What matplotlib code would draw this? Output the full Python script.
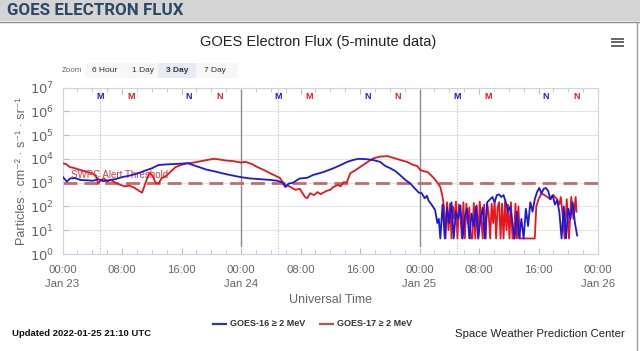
import matplotlib
matplotlib.use("Agg")
import matplotlib.pyplot as plt
from matplotlib.patches import Rectangle
from matplotlib.lines import Line2D
import numpy as np

plt.rcParams["font.family"] = ["Liberation Sans", "DejaVu Sans"]

# hours since 2022-01-23 00:00 UT, flux in particles / cm2 s sr
g16_hours = [
    0.0, 0.6, 1.0, 1.7, 2.4, 3.4, 4.1, 4.8, 5.5, 6.1, 7.1, 8.0, 9.1, 10.2,
    11.1, 12.0, 12.9, 13.8, 14.7, 16.1, 16.8, 17.2, 18.1, 19.4, 20.4, 21.2,
    22.5, 24.0, 25.2, 26.6, 27.9, 28.9, 29.6, 29.95, 30.4, 31.0, 31.9, 32.9,
    33.7, 35.1, 36.4, 37.4, 38.3, 39.1, 39.8, 40.7, 41.7, 42.7, 43.4, 44.1,
    44.8, 45.3, 46.1, 46.8, 47.2, 47.9, 48.3, 48.7, 49.0, 49.2, 49.7, 50.1,
    50.4, 50.6, 50.8, 51.1, 51.4, 51.7, 52.0, 52.3, 52.6, 52.9, 53.2, 53.5,
    53.8, 54.1, 54.4, 54.7, 55.0, 55.3, 55.6, 55.9, 56.2, 56.5, 56.8, 57.1,
    57.5, 57.8, 58.1, 58.4, 58.7, 59.0, 59.3, 59.6, 59.9, 60.2, 60.5, 60.8,
    61.1, 61.4, 61.7, 62.0, 62.3, 62.6, 62.9, 63.2, 63.5, 63.8, 64.1, 64.4,
    64.7, 65.0, 65.3, 65.6, 65.9, 66.2, 66.5, 66.8, 67.1, 67.4, 67.7, 68.0,
    68.3, 68.6, 68.9, 69.2,
]
g16_flux = [
    1800, 1100, 1500, 1550, 1300, 1250, 1200, 1400, 1150, 1250, 1400, 1700,
    2000, 2500, 3200, 4000, 5500, 5800, 6000, 6300, 6600, 6000, 4800, 3500,
    3000, 2600, 2100, 1700, 1500, 1400, 1300, 1200, 1000, 650, 900, 1000,
    1500, 1600, 2100, 2800, 4000, 5500, 7500, 9000, 10000, 9800, 9000, 7500,
    5000, 4000, 3000, 2200, 1300, 900, 650, 380, 360, 220, 280, 180, 110, 70,
    20, 30, 4.5, 120, 4.5, 90, 20, 150, 4.5, 60, 30, 110, 4.5, 40, 80, 4.5,
    50, 15, 100, 4.5, 30, 90, 4.5, 150, 200, 250, 150, 300, 320, 250, 300,
    150, 60, 100, 20, 4.5, 60, 4.5, 30, 4.5, 80, 15, 150, 60, 200, 400, 600,
    350, 550, 600, 450, 200, 300, 120, 180, 60, 4.5, 100, 4.5, 80, 30, 150,
    20, 6,
]

g17_hours = [
    0.0, 0.5, 1.0, 1.7, 2.4, 3.0, 3.9, 4.5, 4.8, 5.2, 5.6, 6.0, 6.5, 7.1,
    7.8, 8.4, 9.0, 9.7, 10.3, 10.7, 11.0, 11.3, 11.7, 12.1, 12.5, 12.9, 13.3,
    14.0, 14.6, 15.2, 15.9, 16.8, 17.7, 18.6, 19.5, 20.3, 21.0, 22.0, 23.0,
    24.0, 24.6, 25.5, 26.2, 27.0, 27.9, 29.2, 29.9, 30.5, 31.3, 31.9, 32.6,
    32.9, 33.3, 33.8, 34.3, 34.7, 35.0, 35.5, 36.0, 36.4, 37.0, 37.4, 37.8,
    38.2, 38.7, 39.3, 40.0, 40.9, 41.8, 42.7, 43.7, 44.5, 45.4, 46.3, 47.2,
    47.7, 48.1, 48.6, 49.1, 49.9, 50.4, 50.8, 51.1, 51.3, 51.5, 51.7, 51.9,
    52.1, 52.3, 52.5, 52.7, 52.9, 53.1, 53.3, 53.5, 53.7, 53.9, 54.1, 54.3,
    54.5, 54.7, 54.9, 55.1, 55.3, 55.5, 55.7, 55.9, 56.1, 56.3, 56.5, 56.7,
    56.9, 57.1, 57.3, 57.5, 57.7, 57.9, 58.1, 58.3, 58.5, 58.7, 58.9, 59.1,
    59.3, 59.5, 59.7, 59.9, 60.1, 60.3, 60.5, 60.7, 60.9, 61.1, 61.3, 61.5,
    63.5, 63.7, 64.0, 64.4, 64.8, 65.2, 65.6, 66.0, 66.2, 66.5, 66.8, 67.0,
    67.3, 67.5, 67.8, 68.1, 68.4, 68.7, 69.0, 69.1,
]
g17_flux = [
    6500, 6000, 4500, 4000, 3400, 3000, 2500, 2000, 900, 1300, 1500, 1100,
    1300, 1000, 800, 700, 750, 600, 450, 380, 700, 1300, 2600, 2000, 1000,
    900, 1500, 2000, 3000, 4500, 5500, 6500, 7000, 8000, 9000, 10000, 9500,
    8500, 8000, 7000, 7500, 6000, 4500, 3500, 2500, 1600, 800, 700, 500, 550,
    250, 220, 360, 300, 400, 330, 370, 450, 500, 650, 800, 700, 1050, 1000,
    2500, 3200, 4500, 7000, 10500, 12500, 13000, 11000, 9000, 7500, 5500,
    5000, 3400, 3000, 2800, 1600, 1000, 650, 250, 90, 4.5, 150, 10, 130, 4.5,
    100, 30, 160, 4.5, 120, 40, 4.5, 150, 4.5, 130, 20, 90, 4.5, 4.5, 140,
    4.5, 110, 4.5, 160, 30, 4.5, 120, 4.5, 140, 50, 4.5, 130, 20, 170, 4.5,
    90, 150, 4.5, 130, 4.5, 160, 10, 120, 4.5, 150, 4.5, 4.5, 130, 4.5, 100,
    4.5, 4.5, 100, 200, 350, 300, 250, 200, 300, 250, 200, 120, 250, 30, 4.5,
    200, 4.5, 250, 30, 250, 60,
]

threshold = 1000
day_lines = [24, 48]
g16_midnight = [5.0, 29.0, 53.0]
g17_midnight = [9.2, 33.2, 57.2]
g16_noon = [17.0, 41.0, 65.0]
g17_noon = [21.1, 45.1, 69.1]

xtick_pos = [0, 8, 16, 24, 32, 40, 48, 56, 64, 72]
xtick_labels = ["00:00\nJan 23", "08:00", "16:00", "00:00\nJan 24", "08:00",
                "16:00", "00:00\nJan 25", "08:00", "16:00", "00:00\nJan 26"]

blue = "#1a1adf"
red = "#e8161c"
grey_txt = "#666666"

fig = plt.figure(figsize=(6.4, 3.51), dpi=100)

# page header band
fig.patches.append(Rectangle((0, 1 - 21 / 351), 1, 21 / 351, transform=fig.transFigure,
                             facecolor="#d4d4d4", edgecolor="none", zorder=0))
fig.add_artist(Line2D([0, 1], [1 - 21.5 / 351] * 2, color="#8a8a8a", lw=1))
fig.add_artist(Line2D([637 / 640] * 2, [0, 1 - 21.5 / 351], color="#a0a0a0", lw=1))
fig.text(7 / 640, 1 - 10.5 / 351, "GOES ELECTRON FLUX", fontsize=12.2, fontweight="bold",
         color="#2d4866", va="center", ha="left", family=["Roboto", "Liberation Sans"])

fig.text(318 / 640, 1 - 42 / 351, "GOES Electron Flux (5-minute data)", fontsize=10.5,
         color="#222222", ha="center", va="center")

# menu icon
for dy in (-3.5, 0, 3.5):
    fig.add_artist(Line2D([612 / 640, 623 / 640], [1 - (42 + dy) / 351] * 2,
                          color="#666666", lw=1.4))

# zoom buttons
fig.text(62 / 640, 1 - 70.5 / 351, "Zoom", fontsize=5.8, color=grey_txt, va="center")
fig.patches.append(Rectangle((86 / 640, 1 - 78 / 351), 152 / 640, 15 / 351,
                             transform=fig.transFigure, facecolor="#f7f7f7",
                             edgecolor="none"))
fig.patches.append(Rectangle((158 / 640, 1 - 78 / 351), 38 / 640, 15 / 351,
                             transform=fig.transFigure, facecolor="#e6ebf5",
                             edgecolor="none"))
for bx, lab, bold in [(105, "6 Hour", False), (143, "1 Day", False),
                      (177, "3 Day", True), (215, "7 Day", False)]:
    fig.text(bx / 640, 1 - 70.5 / 351, lab, fontsize=6, color="#333333",
             ha="center", va="center", fontweight="bold" if bold else "normal")

ax = fig.add_axes([62.5 / 640, 1 - 254 / 351, 535.5 / 640, 166.5 / 351])
ax.set_yscale("log")
ax.set_xlim(0, 72)
ax.set_ylim(1, 1e7)

ax.plot(g16_hours, g16_flux, color=blue, lw=1.3, zorder=4)
ax.plot(g17_hours, g17_flux, color=red, lw=1.3, zorder=3)

ax.axhline(threshold, color="#c46a6a", lw=2, dashes=(5, 2.5), zorder=2)
ax.text(1.2, threshold * 1.25, "SWPC Alert Threshold", fontsize=7, color="#d83a3a",
        ha="left", va="bottom", zorder=2)

for d in day_lines:
    ax.axvline(d, ymin=0.048, ymax=0.985, color="#8c8c8c", lw=1, zorder=1)
for m in g16_midnight:
    ax.axvline(m, color="#b8b8b8", lw=0.8, ls=(0, (1, 1.5)), zorder=1)

trans = ax.get_xaxis_transform()
for pos, lab, col in ([(p, "M", blue) for p in g16_midnight] +
                      [(p, "M", red) for p in g17_midnight] +
                      [(p, "N", blue) for p in g16_noon] +
                      [(p, "N", red) for p in g17_noon]):
    ax.text(pos, 0.945, lab, transform=trans, fontsize=6.5, fontweight="bold",
            color=col, ha="center", va="center")

ax.yaxis.grid(True, which="major", color="#e6e6e6", lw=0.8)
ax.set_axisbelow(True)
for s in ax.spines.values():
    s.set_color("#ccd6eb")
    s.set_linewidth(0.8)

ax.set_xticks(xtick_pos)
ax.set_xticklabels(xtick_labels, linespacing=1.45)
ax.set_xticks(np.arange(0, 73, 2), minor=True)
ax.set_yticks([10.0 ** k for k in range(8)])
ax.set_yticklabels([f"$10^{{{k}}}$" for k in range(8)])
ax.tick_params(axis="both", which="both", direction="in", color="#c0c0c0",
               top=True, labelcolor=grey_txt)
ax.tick_params(axis="x", which="major", length=4, labelsize=8.2, pad=8)
ax.tick_params(axis="x", which="minor", length=3)
ax.tick_params(axis="y", which="major", length=4, labelsize=9.5, pad=6)
ax.tick_params(axis="y", which="minor", length=2)

ax.set_xlabel("Universal Time", fontsize=9, color=grey_txt, labelpad=4)
ax.set_ylabel("Particles · cm⁻² · s⁻¹ · sr⁻¹", fontsize=9, color=grey_txt)
ax.yaxis.set_label_coords(-0.064, 0.5)

# legend
ly = 1 - 324 / 351
fig.add_artist(Line2D([213 / 640, 226 / 640], [ly, ly], color="#2c3a9c", lw=1.6))
fig.text(230 / 640, ly, "GOES-16 ≥ 2 MeV", fontsize=6.5, fontweight="bold",
         color="#333333", va="center")
fig.add_artist(Line2D([320 / 640, 333 / 640], [ly, ly], color="#c0504d", lw=1.6))
fig.text(337 / 640, ly, "GOES-17 ≥ 2 MeV", fontsize=6.5, fontweight="bold",
         color="#333333", va="center")

fig.text(12 / 640, 1 - 334 / 351, "Updated 2022-01-25 21:10 UTC", fontsize=6.8,
         fontweight="bold", color="#111111", va="center")
fig.text(625 / 640, 1 - 334 / 351, "Space Weather Prediction Center", fontsize=8.2,
         color="#222222", va="center", ha="right")

fig.savefig("out.png", dpi=100)
